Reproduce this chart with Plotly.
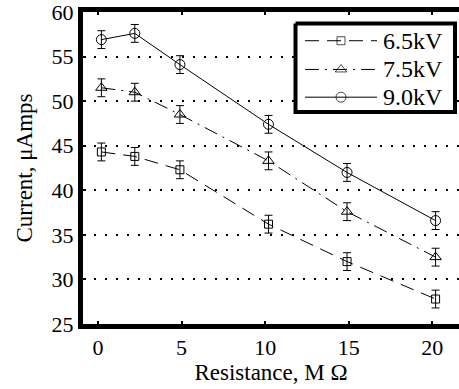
import plotly.graph_objects as go

# Resistance values (M Ohm) where current was measured
resistance = [0.2, 2.2, 4.9, 10.2, 14.9, 20.2]

# Measured current (micro-amps) for each applied voltage
current_65 = [44.3, 43.8, 42.3, 36.2, 32.0, 27.8]
current_75 = [51.5, 51.0, 48.5, 43.3, 37.6, 32.5]
current_90 = [56.9, 57.6, 54.1, 47.4, 42.0, 36.6]

# Symmetric measurement uncertainty (micro-amps)
err = 1.0

labels = ["6.5kV", "7.5kV", "9.0kV"]
values = [current_65, current_75, current_90]
symbols = ["square-open", "triangle-up-open", "circle-open"]
msizes = [8, 10, 10]
dashes = ["14px,8px", "14px,6px,2px,6px", "solid"]

FONT = "Liberation Serif"
L, T, B, W, H = 83, 9, 65, 459, 389

fig = go.Figure()
for name, vals, sym, ms, dash in zip(labels, values, symbols, msizes, dashes):
    fig.add_trace(go.Scatter(
        x=resistance, y=vals, name=name, mode="lines+markers",
        showlegend=False,
        line=dict(color="black", width=1, dash=dash),
        marker=dict(symbol=sym, size=ms, color="black",
                    line=dict(color="black", width=1)),
        error_y=dict(type="constant", value=err, color="black",
                     thickness=1, width=4),
    ))

# Legend drawn on a pixel-scaled overlay axis so the sample lines can be long
box_x0, box_x1, box_y0, box_y1 = 295.5, 455, 20.5, 110
fig.add_trace(go.Scatter(
    x=[box_x0, box_x1, box_x1, box_x0, box_x0],
    y=[box_y0, box_y0, box_y1, box_y1, box_y0],
    xaxis="x2", yaxis="y2", mode="lines", fill="toself",
    fillcolor="white", line=dict(color="black", width=4),
    showlegend=False, hoverinfo="skip",
))

key_x0, key_x1, key_text = 305, 377, 381
key_rows = [38, 67, 95]
for name, row, sym, ms, dash in zip(labels, key_rows, symbols, msizes, dashes):
    fig.add_trace(go.Scatter(
        x=[key_x0, (key_x0 + key_x1) / 2, key_x1], y=[row] * 3,
        xaxis="x2", yaxis="y2", mode="lines+markers", showlegend=False,
        hoverinfo="skip",
        line=dict(color="black", width=1, dash=dash),
        marker=dict(symbol=sym, size=[0, ms, 0], color="black",
                    line=dict(color="black", width=1)),
    ))
    fig.add_annotation(
        x=key_text, y=row, xref="x2", yref="y2", text=name,
        showarrow=False, xanchor="left", yanchor="middle",
        font=dict(family=FONT, size=24, color="black"),
    )

fig.update_layout(
    width=W, height=H,
    margin=dict(l=L, r=0, t=T, b=B),
    paper_bgcolor="white", plot_bgcolor="white",
    font=dict(family=FONT, size=22, color="black"),
    showlegend=False,
    xaxis=dict(
        range=[-0.9, 21.6],
        tickvals=[0, 5, 10, 15, 20],
        showline=True, linecolor="black", linewidth=5, mirror="ticks",
        ticks="inside", ticklen=3, tickwidth=2, tickcolor="black",
        showgrid=False, zeroline=False, ticklabeloverflow="allow",
        title=dict(text="Resistance, M Ω", font=dict(family=FONT, size=23), standoff=6),
        tickfont=dict(family=FONT, size=22),
    ),
    yaxis=dict(
        range=[25, 60],
        tickvals=[25, 30, 35, 40, 45, 50, 55, 60],
        showline=True, linecolor="black", linewidth=5, mirror=False,
        ticks="inside", ticklen=3, tickwidth=2, tickcolor="black",
        showgrid=True, gridcolor="black", gridwidth=2, griddash="2px,9px",
        zeroline=False, ticklabeloverflow="allow",
        title=dict(text="Current, μAmps", font=dict(family=FONT, size=23), standoff=14),
        tickfont=dict(family=FONT, size=22),
    ),
    xaxis2=dict(overlaying="x", anchor="y2", range=[L, W], visible=False,
                fixedrange=True),
    yaxis2=dict(overlaying="y", anchor="x2", range=[H - B, T], visible=False,
                fixedrange=True),
)

fig.write_html("out.html")
